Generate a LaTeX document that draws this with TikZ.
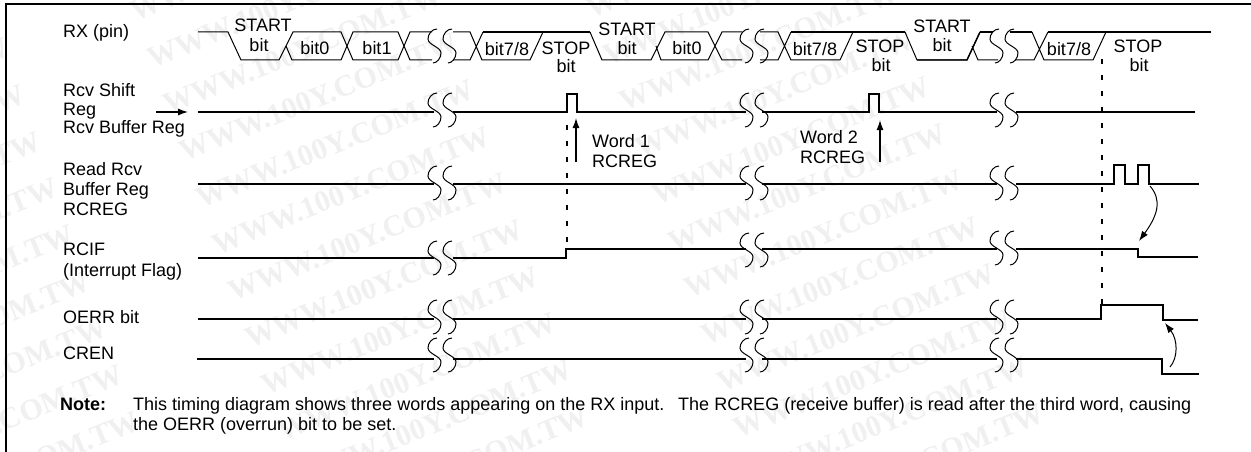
\documentclass[tikz,border=0pt]{standalone}
\usepackage{fontspec}
\setmainfont{Liberation Sans}
\newfontfamily\wmfont{Liberation Serif}
\usetikzlibrary{arrows.meta}
\newcommand{\brkpair}[2]{%
  \foreach \bx in {#1,\the\numexpr#1+15\relax}{%
    \draw[brk] ({\bx+1},{#2-17}) .. controls ({\bx-4},{#2-17}) and ({\bx-8},{#2-12}) .. ({\bx-8},{#2-7})
      .. controls ({\bx-8},{#2-1}) and ({\bx+5},{#2+1}) .. ({\bx+5},{#2+7})
      .. controls ({\bx+5},{#2+12}) and ({\bx+1},{#2+17}) .. ({\bx-3},{#2+17});
  }}
\newcommand{\brkcol}[1]{%
  \brkpair{#1}{46}\brkpair{#1}{110}\brkpair{#1}{183}}
\tikzset{
  x=1pt,y=-1pt,
  sig/.style={line width=1.6pt,line join=miter},
  bus/.style={line width=1pt,line join=miter},
  brk/.style={line width=1pt},
  dashv/.style={line width=1.7pt,dash pattern=on 5pt off 11pt},
  tip/.style={line width=1.3pt,-{Latex[length=10pt,width=7pt]}},
  ctip/.style={line width=1pt,-{Latex[length=10pt,width=7pt]}},
  lab/.style={font=\fontsize{18}{20}\selectfont,inner sep=0pt,text=black},
  llab/.style={lab,anchor=base west},
  clab/.style={lab,anchor=base},
  wm/.style={font=\wmfont\bfseries\fontsize{30}{30}\selectfont,text=black!6,inner sep=0pt,rotate=22,anchor=east},
}
\begin{document}
\begin{tikzpicture}
\useasboundingbox (0,0) rectangle (1251,452);
\fill[white] (0,0) rectangle (1251,452);
% Watermark
\foreach \k in {-1,...,7}{
  \node[wm] at ({24+16.3*\k},{93+46.7*\k}) {WWW.100Y.COM.TW};
}
\foreach \colx/\coly in {473/88,929/85}{
  \foreach \k in {-4,...,7}{
    \node[wm] at ({\colx+16.3*\k},{\coly+46.7*\k}) {WWW.100Y.COM.TW};
  }
}
\draw[line width=1.8pt] (6,452) -- (6,4) -- (1251,4);
% RX
\draw[bus] (198,32)--(228,32)--(241,60)--(279,60)--(293,32)--(341,32)--(353,60)--(398,60)--(410,32)--(432,32)
 (286,46)--(292,60)--(341,60)--(353,32)--(398,32)--(410,60)--(432,60)
 (453,32)--(470,32)--(482,60)--(530,60)--(543,32)
 (453,60)--(470,60)--(483,32)
 (590,32)--(602,60)--(651,60)--(665,32)--(708,32)--(722,60)--(742,60)
 (656,46)--(661,60)--(708,60)--(722,32)--(742,32)
 (760,32)--(778,32)--(791,60)--(840,60)--(853,32)
 (760,60)--(778,60)--(791,32)
 (905,32)--(917,60)--(967,60)--(980,32)
 (972,46)--(978,60)--(998,60)
 (1015,60)--(1034,60)--(1048,32)
 (1032,32)--(1044,60)--(1093,60)--(1106,32);
\draw[line width=1.4pt] (483,32)--(590,32) (791,32)--(905,32) (980,32)--(993,32) (1010,32)--(1032,32) (1048,32)--(1211,32);
\draw[line width=1.4pt] (917,60)--(967,60)--(980,32);
% Rows
\draw[sig] (198,112)--(434,112) (453,112)--(567,112)--(567,94)--(577,94)--(577,112)--(746,112)
 (762,112)--(869,112)--(869,94)--(879,94)--(879,112)--(997,112) (1016,112)--(1195,112);
\draw[sig] (198,184)--(434,184) (453,184)--(746,184) (762,184)--(997,184)
 (1016,184)--(1114,184)--(1114,165)--(1125,165)--(1125,184)--(1138,184)--(1138,165)--(1149,165)--(1149,184)--(1199,184);
\draw[sig] (198,258)--(434,258) (453,258)--(566,258)--(566,249)--(746,249) (762,249)--(997,249) (1016,249)--(1138,249)--(1138,257)--(1198,257);
\draw[sig] (198,319)--(434,319) (453,319)--(746,319) (762,319)--(997,319) (1016,319)--(1101,319)--(1101,305)--(1163,305)--(1163,320)--(1198,320);
\draw[sig] (197,359)--(434,359) (453,359)--(746,359) (762,359)--(997,359) (1016,359)--(1162,359)--(1162,374)--(1199,374);
% Breaks
\brkcol{436}\brkcol{748}\brkcol{998}
\brkpair{436}{258}\brkpair{748}{250}\brkpair{998}{248}
\brkpair{436}{317}\brkpair{748}{317}\brkpair{998}{317}
\brkpair{436}{355}\brkpair{748}{355}\brkpair{998}{355}
% Dashed
\draw[dashv] (567,125) -- (567,246);
\draw[dashv] (1102,59) -- (1102,304);
% Arrows
\coordinate (inS) at (156,112); \coordinate (inE) at (188,112);
\draw[tip] (inS) -- (inE);
\coordinate (w1s) at (576,162); \coordinate (w1e) at (576,118);
\draw[tip] (w1s) -- (w1e);
\coordinate (w2s) at (880,162); \coordinate (w2e) at (880,120);
\draw[tip] (w2s) -- (w2e);
\coordinate (c1s) at (1150,186); \coordinate (c1e) at (1139,241);
\draw[ctip] (c1s) .. controls (1162,200) and (1158,215) .. (c1e);
\coordinate (c2s) at (1170,367); \coordinate (c2e) at (1165,323);
\draw[ctip] (c2s) .. controls (1178,358) and (1178,340) .. (c2e);
% Labels
\node[llab] (l1) at (63,38) {RX (pin)};
\node[llab] (l2) at (63,96.5) {Rcv Shift};
\node[llab] (l3) at (63,115) {Reg};
\node[llab] (l4) at (63,133) {Rcv Buffer Reg};
\node[llab] (l5) at (63,175) {Read Rcv};
\node[llab] (l6) at (63,195) {Buffer Reg};
\node[llab] (l7) at (63,215) {RCREG};
\node[llab] (l8) at (63,255) {RCIF};
\node[llab] (l9) at (63,276) {(Interrupt Flag)};
\node[llab] (l10) at (63,323) {OERR bit};
\node[llab] (l11) at (63,359) {CREN};
\node[clab] (t1) at (263,32) {START};
\node[clab] (t2) at (259,52) {bit};
\node[clab] (t3) at (315,55) {bit0};
\node[clab] (t4) at (377,55) {bit1};
\node[clab] (t5) at (507,55.5) {bit7/8};
\node[clab] (t6) at (566,55) {STOP};
\node[clab] (t7) at (566,73) {bit};
\node[clab] (t8) at (627,36) {START};
\node[clab] (t9) at (627,55) {bit};
\node[clab] (t10) at (687,55) {bit0};
\node[clab] (t11) at (815,55.5) {bit7/8};
\node[clab] (t12) at (880,53) {STOP};
\node[clab] (t13) at (881,72) {bit};
\node[clab] (t14) at (942,32.5) {START};
\node[clab] (t15) at (942,52) {bit};
\node[clab] (t16) at (1069,55.5) {bit7/8};
\node[clab] (t17) at (1138,53) {STOP};
\node[clab] (t18) at (1139,72) {bit};
\node[llab] (w1) at (592,147) {Word 1};
\node[llab] (w1b) at (592,167) {RCREG};
\node[llab] (w2) at (800,143) {Word 2};
\node[llab] (w2b) at (800,163) {RCREG};
\node[llab,font=\fontsize{18}{20}\selectfont\bfseries] (n0) at (60,410) {Note:};
\node[llab] (n1) at (133,410) {This timing diagram shows three words appearing on the RX input.\hspace{0.4em} The RCREG (receive buffer) is read after the third word, causing};
\node[llab] (n2) at (133,430) {the OERR (overrun) bit to be set.};
\end{tikzpicture}
\end{document}
